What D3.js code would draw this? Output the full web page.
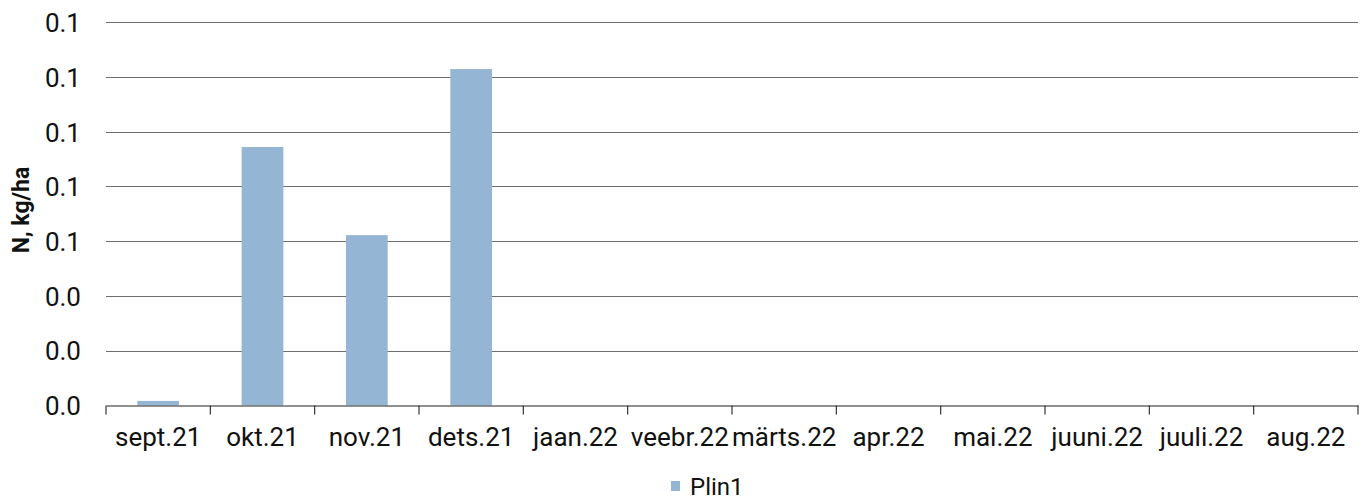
<!DOCTYPE html>
<html><head><meta charset="utf-8">
<script src="https://cdn.jsdelivr.net/npm/d3@7"></script>
<style>body{margin:0;background:#fff;} text{font-family:Roboto, "Noto Sans", sans-serif;}</style>
</head><body>
<svg id="chart" width="1367" height="501"></svg>
<script>
const categories = ["sept.21","okt.21","nov.21","dets.21","jaan.22","veebr.22","märts.22","apr.22","mai.22","juuni.22","juuli.22","aug.22"];
const plin1 = [0.0016, 0.0944, 0.0622, 0.1229, null, null, null, null, null, null, null, null];
const yTicks = [0, 0.02, 0.04, 0.06, 0.08, 0.10, 0.12, 0.14];
const seriesName = "Plin1";
const yTitle = "N, kg/ha";

const svg = d3.select("#chart");
const mLeft = 106, mRight = 1358, mTop = 22.3, mBottom = 405.3;
const x = d3.scaleBand().domain(categories).range([mLeft, mRight]).paddingInner(0.6).paddingOuter(0.3);
const xTickScale = d3.scaleBand().domain(categories).range([mLeft, mRight]);
const y = d3.scaleLinear().domain([0, 0.14]).range([mBottom, mTop]);

// gridlines
svg.append("g").selectAll("line").data(yTicks.filter(d => d > 0)).join("line")
  .attr("x1", mLeft).attr("x2", mRight)
  .attr("y1", d => Math.round(y(d)) + 0.5).attr("y2", d => Math.round(y(d)) + 0.5)
  .attr("stroke", "#6e6e6e").attr("stroke-width", 1.2);

// bars
const data = categories.map((c, i) => ({c, v: plin1[i]})).filter(d => d.v != null);
svg.append("g").selectAll("rect").data(data).join("rect")
  .attr("x", d => x(d.c)).attr("width", x.bandwidth())
  .attr("y", d => y(d.v)).attr("height", d => y(0) - y(d.v))
  .attr("fill", "#95b5d4");

// y axis labels
const yAxis = d3.axisLeft(y).tickValues(yTicks).tickFormat(d3.format(".1f")).tickSize(0).tickPadding(25);
const gy = svg.append("g").attr("transform", `translate(${mLeft},0)`).call(yAxis);
gy.select(".domain").remove();
gy.selectAll("text").attr("font-size", "26px").attr("fill", "#111").attr("dy", "0.36em").style("font-family", "Roboto, sans-serif");

// x axis
const xAxis = d3.axisBottom(xTickScale).tickSize(0).tickPadding(22);
const gx = svg.append("g").attr("transform", `translate(0,${Math.round(mBottom)+0.5})`).call(xAxis);
gx.select(".domain").attr("stroke", "#222").attr("stroke-width", 1.2);
gx.selectAll("text").attr("font-size", "26px").attr("fill", "#111").style("font-family", "Roboto, sans-serif");
// category boundary ticks
const bounds = categories.map(c => xTickScale(c)).concat([mRight]);
gx.append("g").selectAll("line").data(bounds).join("line")
  .attr("x1", d => d).attr("x2", d => d).attr("y1", 0).attr("y2", 9)
  .attr("stroke", "#333").attr("stroke-width", 1.2);

// y title
svg.append("text").attr("transform", "translate(29,210) rotate(-90)")
  .attr("text-anchor", "middle").attr("font-size", "23px").attr("font-weight", "bold").attr("fill", "#111")
  .text(yTitle);

// legend
const lg = svg.append("g").attr("transform", "translate(671,481)");
lg.append("rect").attr("width", 9).attr("height", 10).attr("y", 0).attr("fill", "#95b5d4");
lg.append("text").attr("x", 19).attr("y", 14).attr("font-size", "24px").attr("fill", "#111").text(seriesName);
</script>
</body></html>
